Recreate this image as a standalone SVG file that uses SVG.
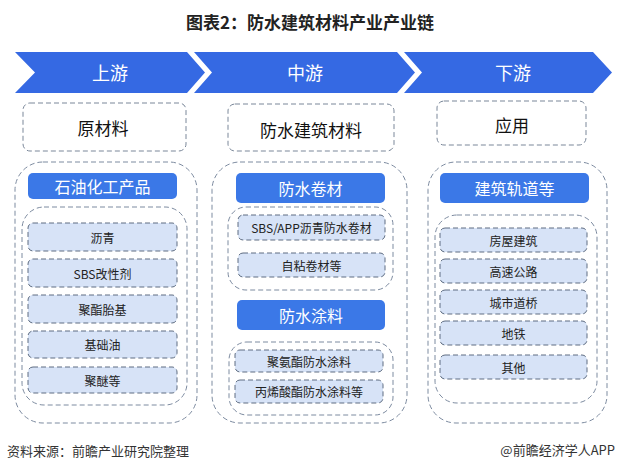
<svg xmlns="http://www.w3.org/2000/svg" width="620" height="470" viewBox="0 0 620 470">
<style>
text{font-family:"Noto Sans CJK SC","Liberation Sans",sans-serif;text-anchor:middle;dominant-baseline:central}
.chev{fill:#3569e3}
.chevt{fill:#ffffff;font-size:18px}
.l1{fill:#ffffff;stroke:#7a8799;stroke-width:1;stroke-dasharray:5,3}
.l1t{fill:#111111;font-size:17px}
.outer{fill:none;stroke:#7d8ba0;stroke-width:1;stroke-dasharray:5,3}
.inner{fill:none;stroke:#7d8ba0;stroke-width:1;stroke-dasharray:5,3}
.hdr{fill:#3b78e7}
.hdrt{fill:#ffffff;font-size:16px}
.item{fill:#d7e3f7;stroke:#5f6d82;stroke-width:1;stroke-dasharray:5,3}
.itemt{fill:#222222;font-size:12px}
.foot{fill:#333333;font-size:13px}
</style>
<rect width="620" height="470" fill="#ffffff"/>
<text x="310" y="21" style="font-size:17px;font-weight:bold;fill:#222222">图表2：防水建筑材料产业产业链</text>

<g id="stage-up">
<polygon class="chev" points="15,52 187,52 205,72.5 187,93 15,93 35,72.5"/>
<text class="chevt" x="110" y="72">上游</text>
</g>
<g id="stage-mid">
<polygon class="chev" points="194,52 397,52 415,72.5 397,93 194,93 212,72.5"/>
<text class="chevt" x="305" y="72">中游</text>
</g>
<g id="stage-down">
<polygon class="chev" points="404,52 593,52 612,72.5 593,93 404,93 422,72.5"/>
<text class="chevt" x="513" y="72">下游</text>
</g>

<g id="raw">
<rect class="l1" x="23" y="103" width="163" height="48" rx="7"/>
<text class="l1t" x="103" y="127">原材料</text>
</g>
<g id="material">
<rect class="l1" x="228" y="104" width="166" height="47" rx="7"/>
<text class="l1t" x="311" y="129">防水建筑材料</text>
</g>
<g id="app">
<rect class="l1" x="437" y="101" width="149" height="44" rx="7"/>
<text class="l1t" x="512" y="124">应用</text>
</g>

<g id="col-up">
<rect class="outer" x="15" y="162" width="182" height="261" rx="28"/>
<rect class="hdr" x="28" y="173" width="149" height="26" rx="5"/>
<text class="hdrt" x="102.5" y="186">石油化工产品</text>
<rect class="inner" x="22" y="207" width="165" height="198" rx="22"/>
<g id="item-asphalt"><rect class="item" x="28" y="223" width="149" height="28" rx="5"/><text class="itemt" x="102.5" y="237">沥青</text></g>
<g id="item-sbs"><rect class="item" x="28" y="259" width="149" height="28" rx="5"/><text class="itemt" x="102.5" y="273">SBS改性剂</text></g>
<g id="item-polyester"><rect class="item" x="28" y="295" width="149" height="28" rx="5"/><text class="itemt" x="102.5" y="309">聚酯胎基</text></g>
<g id="item-baseoil"><rect class="item" x="28" y="331" width="149" height="27" rx="5"/><text class="itemt" x="102.5" y="344.5">基础油</text></g>
<g id="item-polyether"><rect class="item" x="28" y="367" width="149" height="26" rx="5"/><text class="itemt" x="102.5" y="380">聚醚等</text></g>
</g>

<g id="col-mid">
<rect class="outer" x="212" y="162" width="195" height="261" rx="28"/>
<rect class="hdr" x="236" y="173" width="149" height="30" rx="5"/>
<text class="hdrt" x="310.5" y="188">防水卷材</text>
<rect class="inner" x="228" y="207" width="165" height="83" rx="18"/>
<g id="item-sbsapp"><rect class="item" x="238" y="215" width="147" height="25" rx="5"/><text class="itemt" x="311.5" y="227.5">SBS/APP沥青防水卷材</text></g>
<g id="item-selfadh"><rect class="item" x="238" y="253" width="147" height="24" rx="5"/><text class="itemt" x="311.5" y="265">自粘卷材等</text></g>
<rect class="hdr" x="237" y="300" width="148" height="30" rx="5"/>
<text class="hdrt" x="311" y="315">防水涂料</text>
<rect class="inner" x="229" y="342" width="164" height="73" rx="18"/>
<g id="item-pu"><rect class="item" x="235" y="350" width="148" height="22" rx="5"/><text class="itemt" x="309" y="361">聚氨酯防水涂料</text></g>
<g id="item-acrylic"><rect class="item" x="235" y="380" width="148" height="23" rx="5"/><text class="itemt" x="309" y="391.5">丙烯酸酯防水涂料等</text></g>
</g>

<g id="col-down">
<rect class="outer" x="428" y="162" width="179" height="261" rx="28"/>
<rect class="hdr" x="440" y="173" width="149" height="30" rx="5"/>
<text class="hdrt" x="514.5" y="188">建筑轨道等</text>
<rect class="inner" x="435" y="215" width="162" height="188" rx="22"/>
<g id="item-house"><rect class="item" x="440" y="228" width="147" height="24" rx="5"/><text class="itemt" x="513.5" y="240">房屋建筑</text></g>
<g id="item-highway"><rect class="item" x="440" y="259" width="147" height="24" rx="5"/><text class="itemt" x="513.5" y="271">高速公路</text></g>
<g id="item-bridge"><rect class="item" x="440" y="290" width="147" height="24" rx="5"/><text class="itemt" x="513.5" y="302">城市道桥</text></g>
<g id="item-metro"><rect class="item" x="440" y="321" width="147" height="24" rx="5"/><text class="itemt" x="513.5" y="333">地铁</text></g>
<g id="item-other"><rect class="item" x="440" y="355" width="147" height="24" rx="5"/><text class="itemt" x="513.5" y="367">其他</text></g>
</g>

<g id="connectors"></g>

<text class="foot" x="7" y="450" style="text-anchor:start">资料来源：前瞻产业研究院整理</text>
<text class="foot" x="615" y="449" style="text-anchor:end">@前瞻经济学人APP</text>
</svg>
